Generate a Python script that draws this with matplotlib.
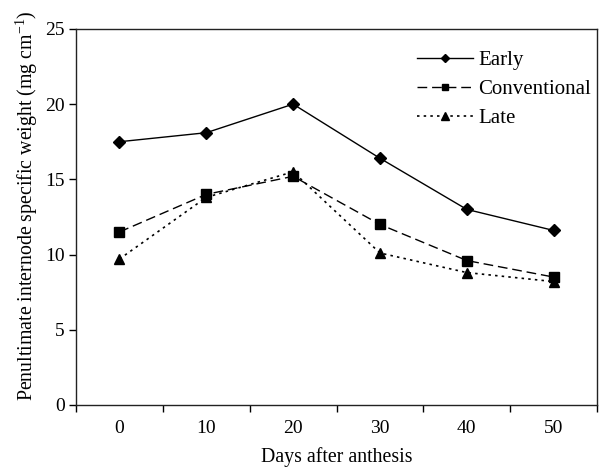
import matplotlib
matplotlib.use("Agg")
import matplotlib.pyplot as plt

plt.rcParams['font.family'] = ['Liberation Serif', 'DejaVu Serif']
plt.rcParams['mathtext.fontset'] = 'custom'
plt.rcParams['mathtext.rm'] = 'Liberation Serif'

days = ["0", "10", "20", "30", "40", "50"]
early = [17.5, 18.1, 20.0, 16.4, 13.0, 11.6]
conventional = [11.5, 14.0, 15.2, 12.0, 9.6, 8.5]
late = [9.7, 13.8, 15.5, 10.1, 8.8, 8.2]

fig = plt.figure(figsize=(6.13, 4.67), dpi=100)
ax = fig.add_axes([0.124, 0.133, 0.850, 0.805])

x = list(range(len(days)))
ax.plot(x, early, color='black', lw=1.0, ls='-', marker='D', ms=6.5, label='Early')
ax.plot(x, conventional, color='black', lw=1.0, ls=(0, (7, 3.5)), marker='s', ms=6.5, label='Conventional')
ax.plot(x, late, color='black', lw=1.2, ls=(0, (1.5, 2.5)), marker='^', ms=7.5, label='Late')

ax.set_xlim(-0.5, len(days) - 0.5)
ax.set_ylim(0, 25)
ax.set_yticks([0, 5, 10, 15, 20, 25])
# Excel style category axis: ticks between categories, labels at centres
ax.set_xticks([i - 0.5 for i in range(len(days) + 1)])
ax.set_xticklabels([])
ax.set_xticks(x, minor=True)
ax.set_xticklabels(days, minor=True)
ax.tick_params(axis='x', which='minor', length=0, pad=11, labelsize=14)
ax.tick_params(axis='x', which='major', length=5, direction='out', width=1)
ax.tick_params(axis='y', length=5, direction='out', width=1, labelsize=14, pad=3)
for s in ax.spines.values():
    s.set_linewidth(1.0)
    s.set_color('#222222')

ax.set_xlabel('Days after anthesis', fontsize=14.3, labelpad=7)
ax.set_ylabel('Penultimate internode specific weight (mg cm$^{-1}$)', fontsize=14.3)
ax.yaxis.set_label_coords(-0.07, 0.53)

leg = ax.legend(loc='upper right', frameon=False, fontsize=15, handlelength=2.7,
                bbox_to_anchor=(1.012, 0.975), borderaxespad=0.2, labelspacing=0.45,
                handletextpad=0.25, markerscale=0.7)

fig.savefig('out.png', dpi=100)
